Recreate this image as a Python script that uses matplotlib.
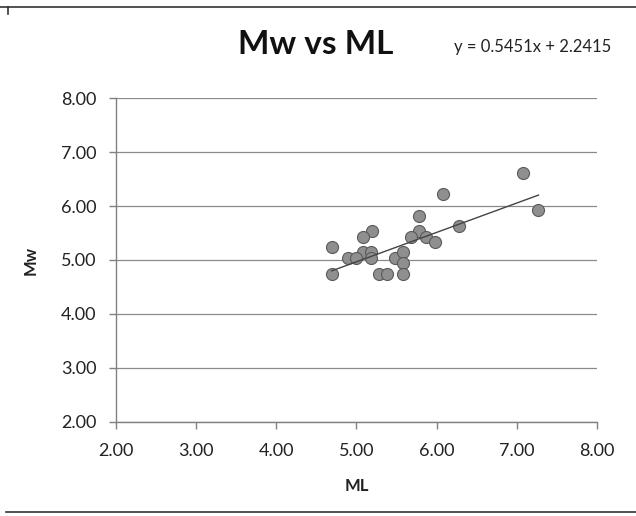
import matplotlib
matplotlib.use("Agg")
import matplotlib.pyplot as plt
import numpy as np

plt.rcParams['font.family'] = ['Lato', 'DejaVu Sans']

ml = [7.08, 6.08, 7.27, 5.78, 6.28, 5.19, 5.08, 5.78, 5.68, 5.87, 5.98, 4.69,
      5.08, 5.18, 4.90, 4.99, 5.18, 5.48, 5.58, 5.58, 4.69, 5.28, 5.38, 5.58]
mw = [6.61, 6.22, 5.92, 5.82, 5.63, 5.54, 5.43, 5.54, 5.43, 5.42, 5.33, 5.24,
      5.15, 5.15, 5.04, 5.04, 5.03, 5.04, 5.15, 4.94, 4.74, 4.74, 4.74, 4.74]
slope, intercept = 0.5451, 2.2415
ticks = [2, 3, 4, 5, 6, 7, 8]
tick_labels = ["2.00", "3.00", "4.00", "5.00", "6.00", "7.00", "8.00"]

fig = plt.figure(figsize=(6.36, 5.16), dpi=100)
ax = fig.add_axes([116/636, 1 - 421.7/516, (597-116)/636, (421.7-98.3)/516])

ax.set_xlim(2, 8)
ax.set_ylim(2, 8)
ax.set_xticks(ticks)
ax.set_xticklabels(tick_labels)
ax.set_yticks(ticks)
ax.set_yticklabels(tick_labels)
ax.grid(axis='y', color='#8a8a8a', lw=0.9)
ax.set_axisbelow(True)
for s in ['top', 'right']:
    ax.spines[s].set_visible(False)
for s in ['left', 'bottom']:
    ax.spines[s].set_color('#808080')
    ax.spines[s].set_linewidth(1.0)
ax.tick_params(axis='both', colors='#808080', labelcolor='#222222',
               labelsize=13, length=5, width=1.0)
ax.tick_params(axis='x', pad=10)
ax.tick_params(axis='y', pad=9)

ax.scatter(ml, mw, s=75, color='#8f8f8f', edgecolor='#5a5a5a',
           linewidth=0.8, zorder=3)
xl = np.array([min(ml), max(ml)])
ax.plot(xl, slope * xl + intercept, color='#444444', lw=1.0, zorder=4)

ax.set_xlabel('ML', fontsize=12, fontweight='bold', color='#222222', labelpad=14)
ax.set_ylabel('Mw', fontsize=12, fontweight='bold', color='#222222', labelpad=16)

fig.text(316/636, 1 - 45/516, 'Mw vs ML', fontsize=24, fontweight='bold',
         ha='center', va='center', color='#111111')
fig.text(533/636, 1 - 47/516, 'y = 0.5451x + 2.2415', fontsize=12,
         ha='center', va='center', color='#222222')

# page edges from the scan
fig.add_artist(plt.Line2D([0.0, 1.0], [1 - 7/516, 1 - 7/516], color='#333333', lw=1.2))
fig.add_artist(plt.Line2D([8/636, 8/636], [1 - 7/516, 1 - 14/516], color='#333333', lw=1.2))
fig.add_artist(plt.Line2D([6/636, 1.0], [1 - 512/516, 1 - 512/516], color='#333333', lw=1.2))

fig.savefig('out.png', dpi=100)
